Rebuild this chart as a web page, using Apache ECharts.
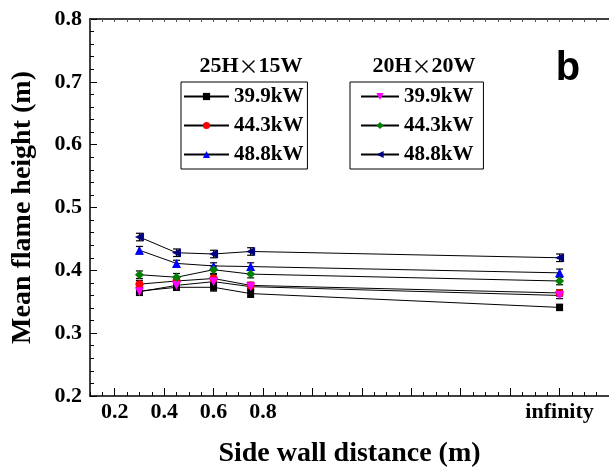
<!DOCTYPE html>
<html>
<head>
<meta charset="utf-8">
<script src="https://cdn.jsdelivr.net/npm/echarts@6/dist/echarts.min.js"></script>
<style>
  html, body { margin: 0; padding: 0; background: #fff; }
  #chart { width: 609px; height: 473px; }
</style>
</head>
<body>
<div id="chart"></div>
<script>
  // side wall distance, "infinity" is drawn at 2.0
  var distances = [0.3, 0.45, 0.6, 0.75, 2.0];
  var xLabelValues = [0.2, 0.4, 0.6, 0.8, 2.0];
  var xLabelTexts = ['0.2', '0.4', '0.6', '0.8', 'infinity'];
  var xMajorTicks = [0.2, 0.4, 0.6, 0.8, 1.0, 1.2, 1.4, 1.6, 1.8, 2.0, 2.2];

  // 25H x 15W
  var a399 = [0.367, 0.373, 0.373, 0.363, 0.341];
  var a443 = [0.378, 0.383, 0.387, 0.376, 0.364];
  var a488 = [0.432, 0.411, 0.407, 0.406, 0.396];
  // 20H x 20W
  var b399 = [0.366, 0.376, 0.382, 0.374, 0.360];
  var b443 = [0.393, 0.389, 0.401, 0.394, 0.383];
  var b488 = [0.453, 0.428, 0.426, 0.430, 0.420];

  var a399Err = [0.006, 0.005, 0.006, 0.006, 0.005];
  var a443Err = [0.006, 0.005, 0.006, 0.005, 0.005];
  var a488Err = [0.006, 0.005, 0.005, 0.006, 0.006];
  var b399Err = [0.006, 0.005, 0.006, 0.005, 0.005];
  var b443Err = [0.006, 0.006, 0.006, 0.006, 0.006];
  var b488Err = [0.006, 0.006, 0.006, 0.006, 0.006];

  var serif = 'Liberation Serif';

  var groups = [
    { name: '39.9kW|a', values: a399, errs: a399Err, color: '#000000', symbol: 'rect', size: 7, rotate: 0 },
    { name: '44.3kW|a', values: a443, errs: a443Err, color: '#ff0000', symbol: 'circle', size: 8, rotate: 0 },
    { name: '48.8kW|a', values: a488, errs: a488Err, color: '#0000ff', symbol: 'triangle', size: 9, rotate: 0 },
    { name: '39.9kW|b', values: b399, errs: b399Err, color: '#ff00ff', symbol: 'triangle', size: 9, rotate: 180 },
    { name: '44.3kW|b', values: b443, errs: b443Err, color: '#008000', symbol: 'diamond', size: 9, rotate: 0 },
    { name: '48.8kW|b', values: b488, errs: b488Err, color: '#000080', symbol: 'triangle', size: 9, rotate: 90 }
  ];

  var errData = [];
  groups.forEach(function (g) {
    g.values.forEach(function (v, i) { errData.push([distances[i], v, g.errs[i]]); });
  });

  function renderErr(params, api) {
    var x = api.value(0), y = api.value(1), e = api.value(2);
    var hi = api.coord([x, y + e]);
    var lo = api.coord([x, y - e]);
    var w = 3.5;
    var st = { stroke: '#000', lineWidth: 1.2 };
    return {
      type: 'group',
      children: [
        { type: 'line', shape: { x1: hi[0], y1: hi[1], x2: lo[0], y2: lo[1] }, style: st },
        { type: 'line', shape: { x1: hi[0] - w, y1: hi[1], x2: hi[0] + w, y2: hi[1] }, style: st },
        { type: 'line', shape: { x1: lo[0] - w, y1: lo[1], x2: lo[0] + w, y2: lo[1] }, style: st }
      ]
    };
  }

  var series = [{
    type: 'custom',
    renderItem: renderErr,
    data: errData,
    z: 1,
    silent: true
  }];
  groups.forEach(function (g) {
    series.push({
      name: g.name,
      type: 'line',
      symbol: g.symbol,
      symbolSize: g.size,
      symbolRotate: g.rotate,
      z: 3,
      itemStyle: { color: g.color },
      lineStyle: { color: '#000', width: 1 },
      data: g.values.map(function (v, i) { return [distances[i], v]; })
    });
  });

  var legendText = { fontFamily: serif, fontWeight: 'bold', fontSize: 21, color: '#000' };
  function legendName(name) { return name.split('|')[0]; }

  // group headings, the cross is the wide CJK one as in the original
  var headRich = {
    t: { fontFamily: serif, fontWeight: 'bold', fontSize: 22, fill: '#000' },
    x: { fontFamily: 'Noto Sans CJK SC', fontSize: 20, fill: '#000' }
  };
  function heading(x, a, b) {
    return {
      type: 'text', x: x, y: 66,
      style: { text: '{t|' + a + '}{x|×}{t|' + b + '}', rich: headRich, align: 'center', verticalAlign: 'middle' }
    };
  }

  var chart = echarts.init(document.getElementById('chart'));
  chart.setOption({
    animation: false,
    backgroundColor: '#fff',
    grid: { left: 90, right: -5, top: 19, bottom: 71 },
    legend: [{
      data: ['39.9kW|a', '44.3kW|a', '48.8kW|a'],
      orient: 'vertical', left: 181, top: 82,
      itemWidth: 45, itemHeight: 9, itemGap: 8,
      padding: [4, 4, 4, 2],
      borderColor: '#000', borderWidth: 1,
      formatter: legendName, textStyle: legendText
    }, {
      data: ['39.9kW|b', '44.3kW|b', '48.8kW|b'],
      orient: 'vertical', left: 350, top: 82,
      itemWidth: 38, itemHeight: 9, itemGap: 8,
      padding: [4, 10, 4, 10],
      borderColor: '#000', borderWidth: 1,
      formatter: legendName, textStyle: legendText
    }],
    graphic: [
      heading(251, '25H', '15W'),
      heading(424, '20H', '20W'),
      { type: 'text', x: 568, y: 69, style: { text: 'b', fontFamily: 'Liberation Sans', fontWeight: 'bold', fontSize: 40, fill: '#000', align: 'center', verticalAlign: 'middle' } }
    ],
    xAxis: [{
      type: 'value', min: 0.1, max: 2.2, interval: 0.05, position: 'bottom',
      name: 'Side wall distance (m)', nameLocation: 'middle', nameGap: 44,
      nameTextStyle: { fontFamily: serif, fontWeight: 'bold', fontSize: 28, color: '#000' },
      axisLine: { lineStyle: { color: '#000', width: 1.5 } },
      axisTick: { inside: true, length: 4, lineStyle: { color: '#000' } },
      axisLabel: {
        customValues: xLabelValues, margin: 5, color: '#000',
        fontFamily: serif, fontWeight: 'bold', fontSize: 22,
        formatter: function (v) {
          var i = xLabelValues.indexOf(Math.round(v * 100) / 100);
          return i < 0 ? '' : xLabelTexts[i];
        }
      },
      splitLine: { show: false }
    }, {
      type: 'value', min: 0.1, max: 2.2, position: 'bottom',
      axisLine: { show: false },
      axisTick: { inside: true, length: 8, customValues: xMajorTicks, lineStyle: { color: '#000' } },
      axisLabel: { show: false },
      splitLine: { show: false }
    }, {
      type: 'value', min: 0.1, max: 2.2, interval: 0.05, position: 'top',
      axisLine: { lineStyle: { color: '#000', width: 1.5 } },
      axisTick: { inside: true, length: 3, lineStyle: { color: '#555' } },
      axisLabel: { show: false },
      splitLine: { show: false }
    }],
    yAxis: {
      type: 'value', min: 0.2, max: 0.8, interval: 0.1,
      name: 'Mean flame height (m)', nameLocation: 'middle', nameGap: 53,
      nameTextStyle: { fontFamily: serif, fontWeight: 'bold', fontSize: 28, color: '#000' },
      axisLine: { show: true, lineStyle: { color: '#000', width: 1.5 } },
      axisTick: { inside: true, length: 7, lineStyle: { color: '#000' } },
      minorTick: { show: true, splitNumber: 5, length: 4, lineStyle: { color: '#000' } },
      axisLabel: {
        margin: 8, color: '#000', fontFamily: serif, fontWeight: 'bold', fontSize: 22,
        formatter: function (v) { return v.toFixed(1); }
      },
      splitLine: { show: false }
    },
    series: series
  });
</script>
</body>
</html>
